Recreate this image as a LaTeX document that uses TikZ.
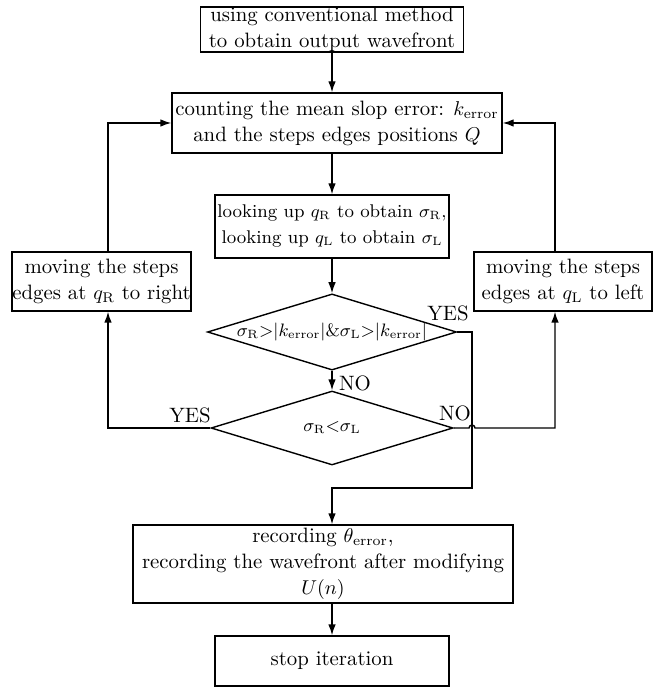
\documentclass[tikz,border=0pt]{standalone}
\usetikzlibrary{arrows.meta,shapes.geometric}
\begin{document}
\begin{tikzpicture}[x=0.5pt,y=-0.5pt,
  every node/.style={font=\fontsize{10.4}{13}\selectfont, inner sep=0pt, align=center},
  box/.style={draw, line width=0.7pt, rectangle},
  dia/.style={draw, line width=0.7pt, diamond, shape aspect=3.27, minimum width=121pt, minimum height=37pt, font=\fontsize{8.8}{11}\selectfont},
  conn/.style={line width=0.7pt},
  arr/.style={conn, -{Latex[length=5.5pt,width=3.8pt]}}
]
\useasboundingbox (0,0) rectangle (662,688);
\node[box, minimum width=131.5pt, minimum height=22.5pt] (b1) at (332,29.5)
  {using conventional method\\to obtain output wavefront};
\node[box, minimum width=165pt, minimum height=30pt] (b2) at (337,123)
  {counting the mean slop error: $k_{\mathrm{error}}$\\and the steps edges positions $Q$};
\node[box, minimum width=117pt, minimum height=31.5pt, font=\fontsize{9.2}{13}\selectfont] (b3) at (332,226.5)
  {looking up $q_{\mathrm{R}}$ to obtain $\sigma_{\mathrm{R}}$,\\looking up $q_{\mathrm{L}}$ to obtain $\sigma_{\mathrm{L}}$};
\node[dia] (d1) at (332,332)
  {$\sigma_{\mathrm{R}}{>}|k_{\mathrm{error}}|\&\sigma_{\mathrm{L}}{>}|k_{\mathrm{error}}|$};
\node[dia] (d2) at (332,428) {$\sigma_{\mathrm{R}}{<}\sigma_{\mathrm{L}}$};
\node[box, minimum width=89.5pt, minimum height=29.5pt] (bl) at (101.5,281.5)
  {moving the steps\\edges at $q_{\mathrm{R}}$ to right};
\node[box, minimum width=89pt, minimum height=29.5pt] (br) at (563,281.5)
  {moving the steps\\edges at $q_{\mathrm{L}}$ to left};
\node[box, minimum width=190pt, minimum height=39pt] (b4) at (323,564)
  {recording $\theta_{\mathrm{error}}$,\\recording the wavefront after modifying\\$U(n)$};
\node[box, minimum width=117pt, minimum height=25pt] (b5) at (332,661) {stop iteration};
\node (no1) at (355,383) {NO};
\node (yes1) at (448,313) {YES};
\node (yes2) at (190,415) {YES};
\node (no2) at (455,413) {NO};
\coordinate (xl) at (108,0);
\coordinate (xr) at (555,0);
\coordinate (jr) at (472,488);
\draw[arr] (b1.south) -- (b1.south |- b2.north);
\draw[arr] (b2.south -| b3.north) -- (b3.north);
\draw[arr] (b3.south) -- (d1.north);
\draw[arr] (d1.south) -- (d2.north);
\draw[arr] (d1.east) -| (jr) -| (b4.north -| b3.south);
\draw[arr] (d2.west) -| (bl.south -| xl);
\draw[arr] (bl.north -| xl) |- (b2.west);
\draw[arr] (d2.east) -- ([xshift=-1.5pt]jr |- d2.east) arc[start angle=180,end angle=0,radius=1.5pt] -| (br.south -| xr);
\draw[arr] (br.north -| xr) |- (b2.east);
\draw[arr] (b4.south -| b5.north) -- (b5.north);
\end{tikzpicture}
\end{document}
